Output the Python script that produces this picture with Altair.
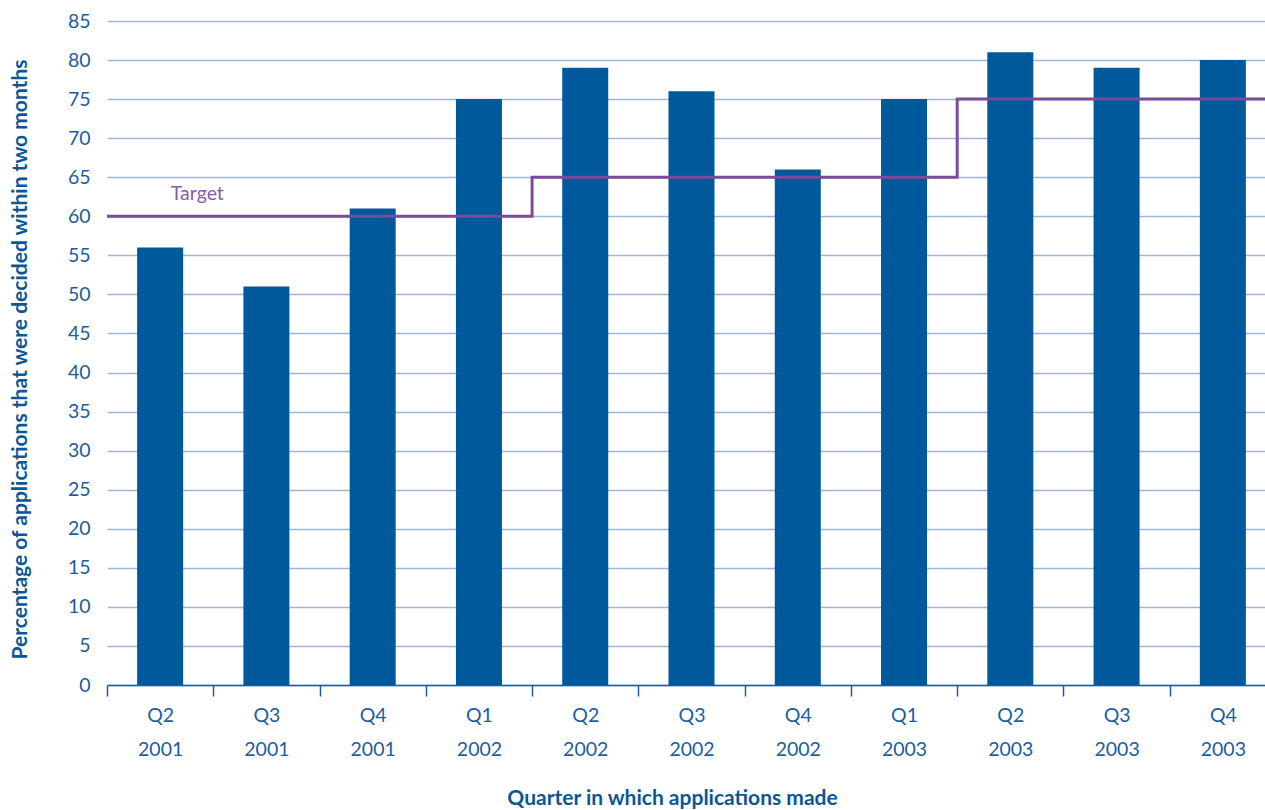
import altair as alt
import pandas as pd

quarters = ["Q2 2001", "Q3 2001", "Q4 2001", "Q1 2002", "Q2 2002", "Q3 2002",
            "Q4 2002", "Q1 2003", "Q2 2003", "Q3 2003", "Q4 2003"]
percent_decided = [56, 51, 61, 75, 79, 76, 66, 75, 81, 79, 80]
target = [60, 60, 60, 60, 65, 65, 65, 65, 75, 75, 75]
y_ticks = list(range(0, 90, 5))

FONT = "Lato"
BAR = "#00599b"
PURPLE = "#7d4a9b"
GRID = "#9fb5da"
TXT = "#1c5d9f"
TITLE = "#0b5796"

bars_df = pd.DataFrame({"quarter": quarters, "pct": percent_decided})

# step line points: boundaries in band-index units
step_x = list(range(len(target))) + [len(target)]
step_y = target + [target[-1]]
step_df = pd.DataFrame({"pos": step_x, "target": step_y})

label_df = pd.DataFrame({"pos": [0.85], "target": [target[0]], "label": ["Target"]})

PLOT_W = 1158
FULL_RANGE = 1169
PLOT_H = 664

yscale = alt.Scale(domain=[0, 85], nice=False, zero=True)
qscale = alt.Scale(domain=[0, len(quarters)], range=[0, FULL_RANGE], nice=False, zero=False)

ytitle = "Percentage of applications that were decided within two months"
yaxis = alt.Axis(
    title=ytitle,
    values=y_ticks,
    labelOverlap=False,
    domain=False,
    ticks=False,
    labelPadding=17,
    labelFont=FONT,
    labelFontSize=19.5,
    labelColor=TXT,
    gridColor=GRID,
    gridWidth=1.5,
    titleFont=FONT,
    titleFontSize=21,
    titleFontWeight="bold",
    titleColor=TITLE,
    titleAngle=270,
    titleX=-87,
    titleY=338,
    titleAlign="center",
    titleBaseline="middle",
)

bars = alt.Chart(bars_df).mark_bar(color=BAR, width=alt.RelativeBandSize(0.433)).encode(
    x=alt.X(
        "quarter:N",
        sort=quarters,
        scale=alt.Scale(range=[0, FULL_RANGE], paddingInner=0, paddingOuter=0),
        axis=alt.Axis(
            title="Quarter in which applications made",
            labelExpr="split(datum.label, ' ')",
            labelAngle=0,
            labelFont=FONT,
            labelFontSize=19.5,
            labelColor=TXT,
            labelLineHeight=34,
            labelPadding=10,
            tickBand="extent",
            tickSize=11,
            tickColor=TXT,
            tickWidth=1.5,
            domainColor=TXT,
            domainWidth=1.5,
            grid=False,
            titleFont=FONT,
            titleFontSize=21,
            titleFontWeight="bold",
            titleColor=TITLE,
            titleX=565,
            titleY=113,
            titleBaseline="middle",
            titleAlign="center",
        ),
    ),
    y=alt.Y("pct:Q", scale=yscale, axis=yaxis, title=ytitle),
)

line = alt.Chart(step_df).mark_line(color=PURPLE, strokeWidth=3, interpolate="step-after").encode(
    x=alt.X("pos:Q", scale=qscale, axis=None),
    y=alt.Y("target:Q", scale=yscale, axis=yaxis, title=ytitle),
)

text = alt.Chart(label_df).mark_text(
    color="#8a5aa8", font=FONT, fontSize=19.5, baseline="middle", align="center", dy=-22
).encode(
    x=alt.X("pos:Q", scale=qscale, axis=None),
    y=alt.Y("target:Q", scale=yscale, axis=yaxis, title=ytitle),
    text="label:N",
)

chart = alt.layer(bars, line, text).resolve_scale(x="independent").properties(
    width=PLOT_W,
    height=PLOT_H,
    autosize=alt.AutoSizeParams(type="none"),
    padding={"left": 107, "top": 21, "right": 0, "bottom": 125},
    background="white",
).configure_view(stroke=None)

chart.save("out.html", embed_options={"renderer": "svg", "actions": False})
